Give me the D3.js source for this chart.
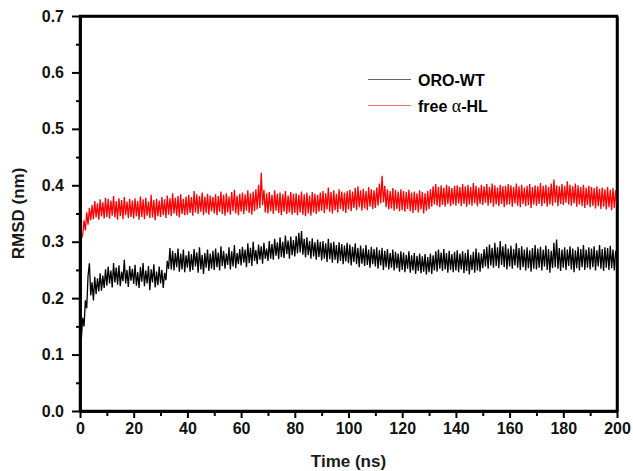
<!DOCTYPE html>
<html>
<head>
<meta charset="utf-8">
<script src="https://cdn.jsdelivr.net/npm/d3@7"></script>
</head>
<body style="margin:0">
<div id="chart"></div>
<script>
var svgWidth = 633;
var svgHeight = 471;

var margin = { top: 16, right: 16, bottom: 60, left: 80 };
var plotW = svgWidth - margin.left - margin.right;
var plotH = svgHeight - margin.top - margin.bottom;

// time axis (ns), one sample every 0.5 ns
var times = d3.range(0, 200.25, 0.5);

var xTicks = [0, 20, 40, 60, 80, 100, 120, 140, 160, 180, 200];
var yTicks = [0.0, 0.1, 0.2, 0.3, 0.4, 0.5, 0.6, 0.7];

var seriesNames = ["ORO-WT", "free \u03b1-HL"];

// RMSD (nm)
var oroWT = [
  0.150, 0.128, 0.165, 0.150, 0.196, 0.182, 0.240, 0.262, 0.205, 0.228, 0.196, 0.238, 0.207, 0.235, 0.212, 0.244, 0.213, 0.240, 0.218, 0.251,
  0.222, 0.256, 0.226, 0.249, 0.219, 0.262, 0.228, 0.254, 0.224, 0.258, 0.221, 0.247, 0.230, 0.268, 0.226, 0.250, 0.220, 0.257, 0.231, 0.252,
  0.225, 0.259, 0.222, 0.246, 0.218, 0.255, 0.229, 0.262, 0.221, 0.249, 0.226, 0.257, 0.214, 0.251, 0.228, 0.260, 0.219, 0.247, 0.223, 0.256,
  0.226, 0.250, 0.218, 0.245, 0.232, 0.266, 0.252, 0.289, 0.251, 0.284, 0.249, 0.280, 0.255, 0.288, 0.247, 0.279, 0.251, 0.286, 0.246, 0.276,
  0.254, 0.283, 0.247, 0.278, 0.250, 0.287, 0.256, 0.281, 0.245, 0.290, 0.251, 0.277, 0.243, 0.280, 0.254, 0.286, 0.248, 0.279, 0.252, 0.284,
  0.250, 0.288, 0.255, 0.281, 0.249, 0.292, 0.257, 0.284, 0.252, 0.279, 0.259, 0.290, 0.251, 0.283, 0.256, 0.294, 0.253, 0.280, 0.260, 0.287,
  0.258, 0.291, 0.263, 0.286, 0.255, 0.297, 0.262, 0.289, 0.257, 0.300, 0.266, 0.285, 0.260, 0.295, 0.268, 0.292, 0.261, 0.298, 0.270, 0.288,
  0.266, 0.301, 0.270, 0.296, 0.268, 0.305, 0.275, 0.299, 0.269, 0.308, 0.273, 0.300, 0.271, 0.311, 0.278, 0.302, 0.270, 0.309, 0.276, 0.303,
  0.274, 0.310, 0.279, 0.316, 0.281, 0.319, 0.277, 0.305, 0.272, 0.308, 0.276, 0.301, 0.270, 0.306, 0.274, 0.299, 0.268, 0.304, 0.273, 0.300,
  0.267, 0.301, 0.270, 0.297, 0.264, 0.305, 0.269, 0.298, 0.263, 0.300, 0.268, 0.294, 0.262, 0.299, 0.266, 0.296, 0.260, 0.293, 0.265, 0.298,
  0.262, 0.295, 0.258, 0.291, 0.264, 0.297, 0.260, 0.289, 0.255, 0.293, 0.261, 0.288, 0.257, 0.294, 0.259, 0.286, 0.254, 0.291, 0.260, 0.287,
  0.256, 0.290, 0.252, 0.285, 0.258, 0.289, 0.250, 0.284, 0.255, 0.287, 0.251, 0.280, 0.254, 0.286, 0.249, 0.282, 0.253, 0.279, 0.247, 0.283,
  0.250, 0.281, 0.246, 0.277, 0.252, 0.283, 0.245, 0.276, 0.249, 0.280, 0.243, 0.275, 0.248, 0.279, 0.244, 0.274, 0.247, 0.278, 0.242, 0.273,
  0.246, 0.279, 0.243, 0.276, 0.249, 0.283, 0.247, 0.286, 0.252, 0.281, 0.248, 0.287, 0.251, 0.280, 0.245, 0.284, 0.250, 0.278, 0.246, 0.282,
  0.249, 0.285, 0.246, 0.279, 0.251, 0.283, 0.244, 0.280, 0.248, 0.286, 0.242, 0.277, 0.250, 0.282, 0.245, 0.288, 0.249, 0.281, 0.247, 0.279,
  0.253, 0.287, 0.256, 0.291, 0.252, 0.295, 0.258, 0.289, 0.254, 0.298, 0.257, 0.290, 0.253, 0.301, 0.259, 0.292, 0.255, 0.296, 0.251, 0.288,
  0.256, 0.293, 0.252, 0.287, 0.258, 0.297, 0.254, 0.289, 0.250, 0.292, 0.255, 0.286, 0.249, 0.290, 0.253, 0.285, 0.247, 0.289, 0.252, 0.294,
  0.251, 0.288, 0.254, 0.291, 0.249, 0.286, 0.256, 0.293, 0.250, 0.287, 0.245, 0.284, 0.253, 0.298, 0.255, 0.304, 0.252, 0.289, 0.248, 0.286,
  0.254, 0.290, 0.250, 0.286, 0.257, 0.292, 0.251, 0.288, 0.246, 0.285, 0.253, 0.291, 0.249, 0.287, 0.255, 0.294, 0.250, 0.286, 0.254, 0.290,
  0.251, 0.288, 0.255, 0.292, 0.249, 0.285, 0.256, 0.294, 0.252, 0.287, 0.248, 0.290, 0.254, 0.289, 0.250, 0.293, 0.253, 0.286, 0.249, 0.284,
  0.268
];

var freeHL = [
  0.200, 0.305, 0.312, 0.338, 0.320, 0.352, 0.330, 0.360, 0.338, 0.365, 0.340, 0.372, 0.343, 0.368, 0.339, 0.375, 0.345, 0.370, 0.341, 0.378,
  0.344, 0.376, 0.341, 0.373, 0.346, 0.381, 0.343, 0.372, 0.339, 0.377, 0.345, 0.374, 0.340, 0.379, 0.347, 0.371, 0.342, 0.376, 0.344, 0.373,
  0.341, 0.377, 0.345, 0.372, 0.339, 0.380, 0.344, 0.375, 0.340, 0.378, 0.346, 0.371, 0.342, 0.383, 0.343, 0.374, 0.338, 0.376, 0.345, 0.373,
  0.344, 0.379, 0.347, 0.375, 0.342, 0.382, 0.348, 0.377, 0.345, 0.386, 0.350, 0.378, 0.346, 0.381, 0.343, 0.384, 0.349, 0.376, 0.347, 0.380,
  0.348, 0.383, 0.351, 0.379, 0.346, 0.390, 0.352, 0.384, 0.349, 0.381, 0.353, 0.387, 0.347, 0.380, 0.351, 0.385, 0.348, 0.382, 0.354, 0.379,
  0.350, 0.384, 0.347, 0.381, 0.353, 0.389, 0.349, 0.383, 0.346, 0.386, 0.352, 0.380, 0.348, 0.388, 0.354, 0.392, 0.350, 0.382, 0.347, 0.385,
  0.353, 0.387, 0.349, 0.384, 0.355, 0.391, 0.351, 0.386, 0.348, 0.389, 0.354, 0.393, 0.357, 0.401, 0.360, 0.422, 0.365, 0.392, 0.352, 0.386,
  0.350, 0.388, 0.354, 0.383, 0.349, 0.391, 0.355, 0.385, 0.351, 0.387, 0.347, 0.384, 0.353, 0.390, 0.349, 0.382, 0.352, 0.388, 0.348, 0.385,
  0.351, 0.386, 0.347, 0.383, 0.352, 0.389, 0.348, 0.384, 0.345, 0.387, 0.350, 0.382, 0.346, 0.388, 0.352, 0.385, 0.349, 0.383, 0.353, 0.387,
  0.355, 0.390, 0.351, 0.386, 0.357, 0.396, 0.353, 0.388, 0.350, 0.391, 0.356, 0.385, 0.352, 0.393, 0.358, 0.389, 0.354, 0.387, 0.351, 0.390,
  0.357, 0.392, 0.354, 0.389, 0.360, 0.395, 0.356, 0.398, 0.361, 0.391, 0.355, 0.394, 0.359, 0.390, 0.356, 0.397, 0.362, 0.393, 0.358, 0.391,
  0.360, 0.396, 0.364, 0.403, 0.368, 0.417, 0.370, 0.399, 0.361, 0.393, 0.357, 0.390, 0.359, 0.395, 0.355, 0.392, 0.358, 0.389, 0.354, 0.393,
  0.356, 0.390, 0.353, 0.388, 0.358, 0.392, 0.354, 0.387, 0.351, 0.389, 0.356, 0.386, 0.352, 0.391, 0.357, 0.388, 0.350, 0.386, 0.355, 0.390,
  0.358, 0.393, 0.362, 0.398, 0.366, 0.402, 0.364, 0.397, 0.361, 0.400, 0.365, 0.396, 0.362, 0.401, 0.367, 0.398, 0.363, 0.395, 0.366, 0.399,
  0.364, 0.400, 0.368, 0.397, 0.363, 0.402, 0.367, 0.398, 0.362, 0.401, 0.366, 0.397, 0.364, 0.404, 0.368, 0.399, 0.363, 0.396, 0.367, 0.401,
  0.365, 0.398, 0.369, 0.402, 0.364, 0.397, 0.368, 0.403, 0.362, 0.400, 0.366, 0.396, 0.363, 0.401, 0.367, 0.398, 0.361, 0.399, 0.365, 0.402,
  0.366, 0.400, 0.362, 0.397, 0.368, 0.403, 0.364, 0.398, 0.361, 0.401, 0.367, 0.396, 0.363, 0.399, 0.365, 0.402, 0.360, 0.397, 0.366, 0.400,
  0.364, 0.398, 0.367, 0.404, 0.363, 0.399, 0.368, 0.401, 0.362, 0.397, 0.366, 0.403, 0.364, 0.410, 0.369, 0.400, 0.363, 0.398, 0.367, 0.402,
  0.365, 0.399, 0.369, 0.407, 0.366, 0.401, 0.364, 0.398, 0.368, 0.403, 0.362, 0.400, 0.366, 0.397, 0.363, 0.401, 0.360, 0.396, 0.365, 0.399,
  0.361, 0.397, 0.364, 0.395, 0.359, 0.398, 0.363, 0.394, 0.358, 0.396, 0.362, 0.393, 0.357, 0.397, 0.361, 0.392, 0.356, 0.395, 0.360, 0.391,
  0.362
];

var svg = d3.select("#chart")
  .append("svg")
  .attr("width", svgWidth)
  .attr("height", svgHeight);

var xScale = d3.scaleLinear().domain([0, 200]).range([margin.left, margin.left + plotW]);
var yScale = d3.scaleLinear().domain([0, 0.7]).range([margin.top + plotH, margin.top]);

// plot frame, drawn first
var x0 = xScale(0), x1 = xScale(200), y0 = yScale(0), y1 = yScale(0.7);
svg.append("path")
  .attr("d", `M${x0},${y1}H${x1}V${y0}H${x0}Z`)
  .attr("fill", "none")
  .attr("stroke", "#000")
  .attr("stroke-width", 2.5);

var line = d3.line()
  .x((d, i) => xScale(times[i]))
  .y(d => yScale(d));

svg.append("path")
  .datum(oroWT)
  .attr("fill", "none")
  .attr("stroke", "#000")
  .attr("stroke-width", 1.3)
  .attr("d", line);

svg.append("path")
  .datum(freeHL)
  .attr("fill", "none")
  .attr("stroke", "#ff0000")
  .attr("stroke-width", 1.3)
  .attr("d", line);

// axes: minor ticks, then labelled major ticks; keep d3's own domain line too
function styleAxis(g) {
  g.select(".domain")
    .attr("stroke", "#000")
    .attr("stroke-width", 2.5);
  g.selectAll(".tick line")
    .attr("stroke", "#000")
    .attr("stroke-width", 2);
  g.selectAll(".tick text")
    .attr("fill", "#111")
    .attr("font-family", "'Liberation Sans', Arial, sans-serif")
    .attr("font-weight", "bold")
    .attr("font-size", 16);
}

svg.append("g")
  .attr("transform", `translate(0, ${y0})`)
  .call(d3.axisBottom(xScale).tickValues(d3.range(10, 200, 20)).tickSize(5).tickSizeOuter(0).tickFormat(""))
  .call(styleAxis);
svg.append("g")
  .attr("transform", `translate(${x0}, 0)`)
  .call(d3.axisLeft(yScale).tickValues(d3.range(0.05, 0.7, 0.1)).tickSize(4).tickSizeOuter(0).tickFormat(""))
  .call(styleAxis);

svg.append("g")
  .attr("transform", `translate(0, ${y0})`)
  .call(d3.axisBottom(xScale).tickValues(xTicks).tickSize(7).tickSizeOuter(0).tickPadding(5).tickFormat(d3.format("d")))
  .call(styleAxis);
svg.append("g")
  .attr("transform", `translate(${x0}, 0)`)
  .call(d3.axisLeft(yScale).tickValues(yTicks).tickSize(8).tickSizeOuter(0).tickPadding(8).tickFormat(d3.format(".1f")))
  .call(styleAxis);

// top and right axes without ticks
svg.append("g")
  .attr("transform", `translate(0, ${y1})`)
  .call(d3.axisTop(xScale).tickValues([]).tickSizeOuter(0))
  .call(styleAxis);
svg.append("g")
  .attr("transform", `translate(${x1}, 0)`)
  .call(d3.axisRight(yScale).tickValues([]).tickSizeOuter(0))
  .call(styleAxis);

// axis titles
svg.append("text")
  .attr("x", (x0 + x1) / 2)
  .attr("y", 467)
  .attr("text-anchor", "middle")
  .attr("font-family", "'Liberation Sans', Arial, sans-serif")
  .attr("font-weight", "bold")
  .attr("font-size", 17)
  .attr("fill", "#1a1a1a")
  .text("Time (ns)");

svg.append("text")
  .attr("transform", `translate(24, ${(y0 + y1) / 2}) rotate(-90)`)
  .attr("text-anchor", "middle")
  .attr("font-family", "'Liberation Sans', Arial, sans-serif")
  .attr("font-weight", "bold")
  .attr("font-size", 17)
  .attr("fill", "#1a1a1a")
  .text("RMSD (nm)");

// legend
var legend = svg.append("g")
  .attr("font-family", "'Liberation Sans', Arial, sans-serif")
  .attr("font-weight", "bold")
  .attr("font-size", 16);
var legendColors = ["#000", "#ff0000"];
seriesNames.forEach(function(name, i) {
  var ly = 79.5 + i * 26;
  legend.append("line")
    .attr("x1", 368).attr("x2", 411)
    .attr("y1", ly).attr("y2", ly)
    .attr("stroke", legendColors[i])
    .attr("stroke-opacity", 0.6)
    .attr("stroke-width", 1.2);
  var t = legend.append("text")
    .attr("x", 418)
    .attr("y", ly + 6);
  if (i === 0) {
    t.text(name);
  } else {
    t.append("tspan").text("free ");
    t.append("tspan")
      .attr("font-family", "'Liberation Serif', 'DejaVu Serif', serif")
      .attr("font-weight", "normal")
      .attr("font-size", "18px")
      .text("\u03b1");
    t.append("tspan").text("-HL");
  }
});
</script>
</body>
</html>
